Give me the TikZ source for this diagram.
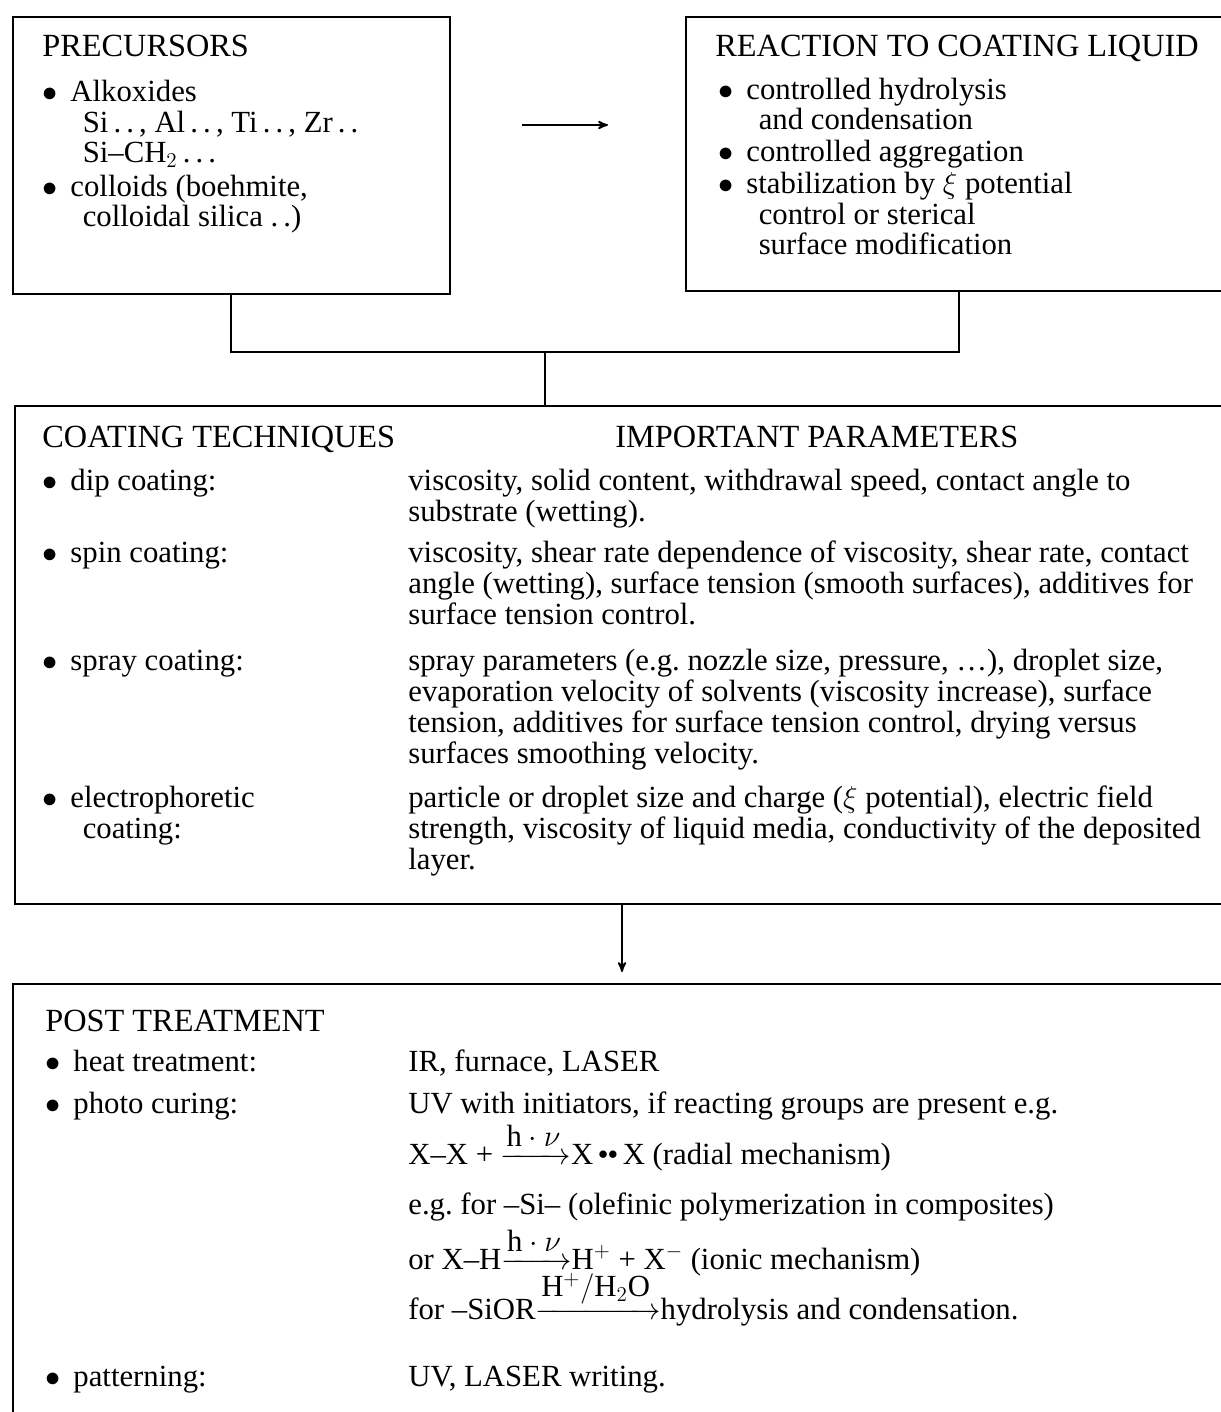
\documentclass[tikz,border=0pt]{standalone}
\usepackage{amsmath}
\usepackage{fontspec}
\setmainfont{Liberation Serif}
\usetikzlibrary{arrows}
\usetikzlibrary{positioning}
\newcommand{\bodyfont}{\fontsize{17.5}{17.6}\selectfont}
\newcommand{\headfont}{\fontsize{18.4}{18.4}\selectfont}
\newcommand{\itm}{\makebox[16pt][l]{$\bullet$}}
\newcommand{\cnt}{\hspace*{23pt}}
\newcommand{\dd}{\,\raisebox{2.5pt}{\fontsize{11}{11}\selectfont$\bullet\bullet$}\,}

\begin{document}
\begin{tikzpicture}[x=0.02cm,y=-0.02cm,
  box/.style={draw,line width=1pt,anchor=north west,inner sep=0pt},
  txt/.style={anchor=base west,inner sep=0pt,align=left,font=\bodyfont},
  head/.style={txt,font=\headfont},
  link/.style={line width=1pt},
  arr/.style={->,>=stealth',line width=1pt}]
  \useasboundingbox (0,0) rectangle (1220,1412);

  \node[box,minimum width=8.74cm,minimum height=5.54cm](prec) at (12,16){};
  \node[box,minimum width=10.92cm,minimum height=5.48cm](react) at (685,16){};
  \node[box,minimum width=24.52cm,minimum height=9.96cm](coat) at (14,405){};
  \node[box,minimum width=24.56cm,minimum height=8.94cm](post) at (12,983){};

  % multi-line texts sit on the baseline of their last line
  \node[head](precT) at (42,57){PRECURSORS};
  \node[txt](alk) at (42,163){\itm Alkoxides\\\cnt Si\,.\,.\,, Al\,.\,.\,, Ti\,.\,.\,, Zr\,.\,.\\\cnt Si--CH$_2$\,.\,.\,.};
  \node[txt](coll) at (42,227){\itm colloids (boehmite,\\\cnt colloidal silica .\,.)};

  \node[head](reactT) at (715,57){REACTION TO COATING LIQUID};
  \node[txt](hyd) at (718,130){\itm controlled hydrolysis\\\cnt and condensation};
  \node[txt](agg) at (718,162){\itm controlled aggregation};
  \node[txt](stab) at (718,255){\itm stabilization by $\xi$ potential\\\cnt control or sterical\\\cnt surface modification};

  \node[head](coatT) at (42,447){COATING TECHNIQUES};
  \node[head](parT) at (615,447){IMPORTANT PARAMETERS};
  \node[txt](dip) at (42,490){\itm dip coating:};
  \node[txt](dipP) at (408,521){viscosity, solid content, withdrawal speed, contact angle to\\substrate (wetting).};
  \node[txt](spin) at (42,562){\itm spin coating:};
  \node[txt](spinP) at (408,624){viscosity, shear rate dependence of viscosity, shear rate, contact\\angle (wetting), surface tension (smooth surfaces), additives for\\surface tension control.};
  \node[txt](spray) at (42,670){\itm spray coating:};
  \node[txt](sprayP) at (408,763){spray parameters (e.g.\ nozzle size, pressure, \ldots), droplet size,\\evaporation velocity of solvents (viscosity increase), surface\\tension, additives for surface tension control, drying versus\\surfaces smoothing velocity.};
  \node[txt](elec) at (42,838){\itm electrophoretic\\\cnt coating:};
  \node[txt](elecP) at (408,869){particle or droplet size and charge ($\xi$ potential), electric field\\strength, viscosity of liquid media, conductivity of the deposited\\layer.};

  \node[head](postT) at (45,1031){POST TREATMENT};
  \node[txt](heat) at (45,1071){\itm heat treatment:};
  \node[txt](heatP) at (408,1071){IR, furnace, LASER};
  \node[txt](photo) at (45,1113){\itm photo curing:};
  \node[txt](pc1) at (408,1113){UV with initiators, if reacting groups are present e.g.};
  \node[txt](pc2) at (408,1164){X--X + $\xrightarrow{\textstyle\mathrm{h}\cdot\nu}$X\dd X (radial mechanism)};
  \node[txt](pc3) at (408,1214){e.g.\ for --Si-- (olefinic polymerization in composites)};
  \node[txt](pc4) at (408,1269){or X--H$\xrightarrow{\textstyle\mathrm{h}\cdot\nu}$H$^+$ + X$^-$ (ionic mechanism)};
  \node[txt](pc5) at (408,1319){for --SiOR$\xrightarrow{\textstyle\mathrm{H}^+/\mathrm{H}_2\mathrm{O}}$hydrolysis and condensation.};
  \node[txt](pat) at (45,1386){\itm patterning:};
  \node[txt](patP) at (408,1386){UV, LASER writing.};

  \coordinate (j) at (545,352);
  \coordinate (a1) at (522,125);
  \coordinate (a2) at (608,125);
  \coordinate (a3) at (622,972);
  \draw[link](prec.south) |- (j) -| (react.south);
  \draw[link](j) -- (j |- coat.north);
  \draw[arr](a1) -- (a2);
  \draw[arr](a3 |- coat.south) -- (a3);
\end{tikzpicture}
\end{document}
